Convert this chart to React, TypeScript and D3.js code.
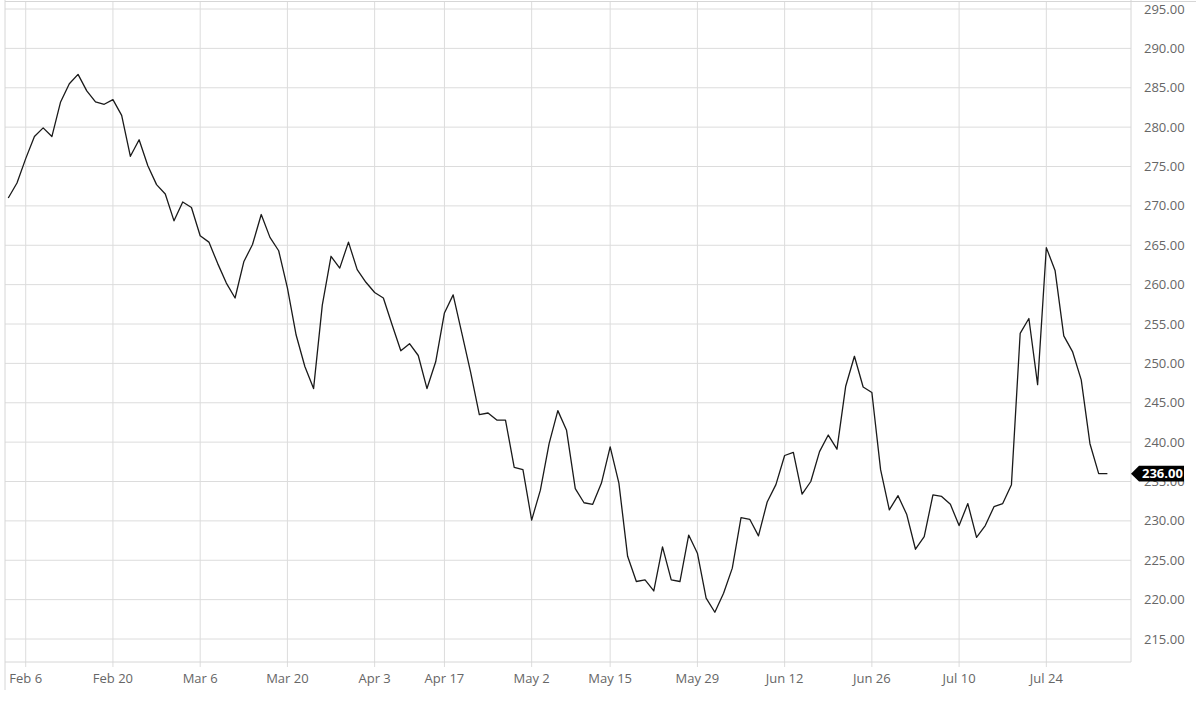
import React from "react";
import * as d3 from "d3";

const prices: number[] = [
  271.0, 272.9, 276.0, 278.8, 279.9, 278.8, 283.2, 285.5, 286.7, 284.6,
  283.2, 282.9, 283.5, 281.5, 276.3, 278.4, 275.1, 272.7, 271.5, 268.1,
  270.5, 269.8, 266.2, 265.4, 262.7, 260.2, 258.3, 262.9, 265.1, 268.9,
  266.0, 264.3, 259.6, 253.6, 249.6, 246.8, 257.4, 263.6, 262.1, 265.4,
  261.9, 260.3, 259.0, 258.3, 254.9, 251.6, 252.5, 251.0, 246.8, 250.2,
  256.4, 258.7, 253.8, 248.9, 243.5, 243.7, 242.8, 242.8, 236.8, 236.5,
  230.1, 233.9, 239.8, 244.0, 241.5, 234.1, 232.3, 232.1, 234.8, 239.4,
  234.8, 225.5, 222.3, 222.5, 221.1, 226.7, 222.5, 222.3, 228.2, 225.9,
  220.2, 218.4, 220.8, 224.0, 230.4, 230.2, 228.1, 232.4, 234.6, 238.3,
  238.7, 233.4, 235.0, 238.8, 240.9, 239.1, 247.1, 250.9, 247.0, 246.3,
  236.5, 231.4, 233.2, 230.8, 226.4, 228.0, 233.3, 233.1, 232.1, 229.4,
  232.2, 227.9, 229.4, 231.8, 232.2, 234.6, 253.8, 255.7, 247.3, 264.7,
  261.8, 253.5, 251.5, 247.9, 239.8, 236.0, 236.0,
];

const xTickIndex: number[] = [2, 12, 22, 32, 42, 50, 60, 69, 79, 89, 99, 109, 119];
const xTickLabels: string[] = [
  "Feb 6", "Feb 20", "Mar 6", "Mar 20", "Apr 3", "Apr 17", "May 2",
  "May 15", "May 29", "Jun 12", "Jun 26", "Jul 10", "Jul 24",
];
const yTicks: number[] = [215, 220, 225, 230, 235, 240, 245, 250, 255, 260, 265, 270, 275, 280, 285, 290, 295];
const lastValue = 236.0;

const W = 1200;
const H = 701;
const left = 5;
const right = 1131;
const top = 1.5;
const bottom = 662;

export default function App() {
  const x = d3.scaleLinear().domain([0, prices.length - 1]).range([8.26, 1107.4]);
  const y = d3.scaleLinear().domain([215, 295]).range([639, 9]);
  const line = d3
    .line<number>()
    .x((_, i) => x(i))
    .y((d) => y(d));
  const font = "'Open Sans', 'Noto Sans', sans-serif";
  const ly = y(lastValue);
  const badge = `M${right},${ly} L${right + 8},${ly - 7.8} L${right + 53},${ly - 7.8} L${right + 53},${ly + 7.8} L${right + 8},${ly + 7.8} Z`;
  return (
    <div style={{ position: "fixed", left: 0, top: 0 }}>
      <svg width={W} height={H} style={{ display: "block", background: "#fff" }}>
        {/* horizontal grid */}
        {yTicks.map((t) => (
          <line key={"h" + t} x1={left} x2={right} y1={y(t)} y2={y(t)} stroke="#dcdcdc" strokeWidth={1} />
        ))}
        {/* vertical grid + ticks */}
        {xTickIndex.map((i) => (
          <line key={"v" + i} x1={x(i)} x2={x(i)} y1={top} y2={bottom + 5} stroke="#dcdcdc" strokeWidth={1} />
        ))}
        {/* frame */}
        <line x1={left} x2={1196} y1={top} y2={top} stroke="#d6d6d6" strokeWidth={1} />
        <line x1={left} x2={left} y1={0} y2={690} stroke="#d6d6d6" strokeWidth={1} />
        <line x1={right} x2={right} y1={0} y2={bottom} stroke="#d6d6d6" strokeWidth={1} />
        <line x1={left} x2={right} y1={bottom} y2={bottom} stroke="#d6d6d6" strokeWidth={1} />
        {/* y labels */}
        {yTicks.map((t) => (
          <text key={"yl" + t} x={1144} y={y(t)} dy="0.35em" fontFamily={font} fontSize={13} fill="#666">
            {t.toFixed(2)}
          </text>
        ))}
        {/* x labels */}
        {xTickIndex.map((i, k) => (
          <text key={"xl" + i} x={x(i)} y={678} dy="0.35em" textAnchor="middle" fontFamily={font} fontSize={13} fill="#666">
            {xTickLabels[k]}
          </text>
        ))}
        {/* price line */}
        <path d={line(prices) || ""} fill="none" stroke="#1a1a1a" strokeWidth={1.3} strokeLinejoin="round" />
        {/* last value badge */}
        <path d={badge} fill="#000" />
        <text x={1142} y={ly} dy="0.36em" fontFamily={font} fontSize={13} fontWeight={700} fill="#fff">
          {lastValue.toFixed(2)}
        </text>
      </svg>
    </div>
  );
}
